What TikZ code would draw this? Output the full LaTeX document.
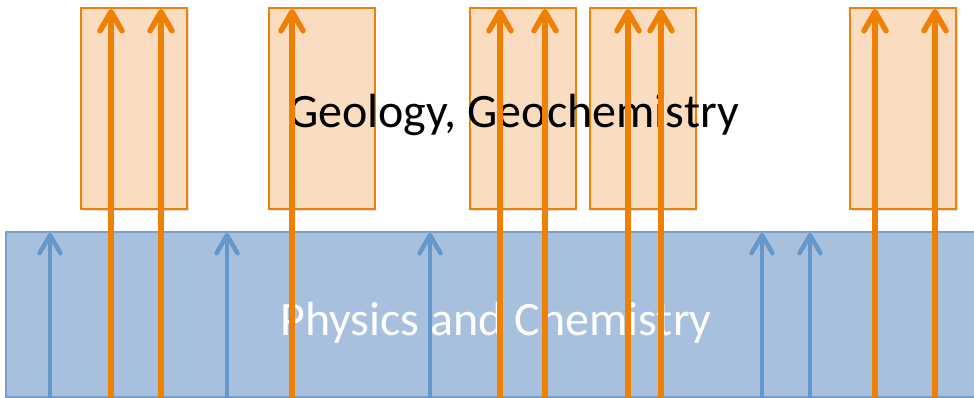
\documentclass[tikz,border=0pt]{standalone}
\usepackage{fontspec}
\setmainfont{Carlito}
\usetikzlibrary{arrows.meta,shadows}
\definecolor{orline}{HTML}{EE8105}
\definecolor{orfill}{HTML}{FADCC1}
\definecolor{blfill}{HTML}{A7C0DE}
\definecolor{blline}{HTML}{7A9FCB}
\definecolor{blarrow}{HTML}{6598CA}
\tikzset{
  obox/.style={draw=orline, line width=2pt, fill=orfill, minimum width=106pt, minimum height=201pt, inner sep=0pt,
    drop shadow={shadow xshift=1.5pt, shadow yshift=-1.5pt, opacity=0.25}},
  pbox/.style={draw=blline, line width=1.2pt, fill=blfill, minimum width=972pt, minimum height=165pt, inner sep=0pt},
  oarrow/.style={draw=orline, line width=5.5pt, -{Straight Barb[length=19pt, width=22pt, line cap=round, line join=round]}},
  barrow/.style={draw=blarrow, line width=4.5pt, -{Straight Barb[length=18pt, width=21pt, line cap=round, line join=round]}},
  lbl/.style={font=\fontsize{48}{56}\selectfont, inner sep=0pt, anchor=base}
}
\begin{document}
\begin{tikzpicture}[x=1pt,y=-1pt]
\useasboundingbox (0,0) rectangle (974,398);
% physics box
\node[pbox] (phys) at (492,314.5) {};
% orange boxes
\node[obox] (g1) at (134,109) {};
\node[obox] (g2) at (321.5,109) {};
\node[obox] (g3) at (522.5,109) {};
\node[obox] (g4) at (642.5,109) {};
\node[obox] (g5) at (903,109) {};
% blue arrows
\foreach \n/\x in {1/50,2/227,3/430,4/762,5/810}{
  \coordinate (bs\n) at (\x,400);
  \coordinate (be\n) at (\x,233);
  \draw[barrow] (bs\n) -- (be\n);
}
% labels
\node[lbl, text=black] (geo) at (513.5,128) {Geology, Geochemistry};
\node[lbl, text=white] (phy) at (496,335) {Physics and Chemistry};
% orange arrows
\foreach \n/\x in {1/111,2/161,3/292,4/500,5/545,6/628,7/661,8/875,9/935}{
  \coordinate (os\n) at (\x,400);
  \coordinate (oe\n) at (\x,9);
  \draw[oarrow] (os\n) -- (oe\n);
}
\end{tikzpicture}
\end{document}
